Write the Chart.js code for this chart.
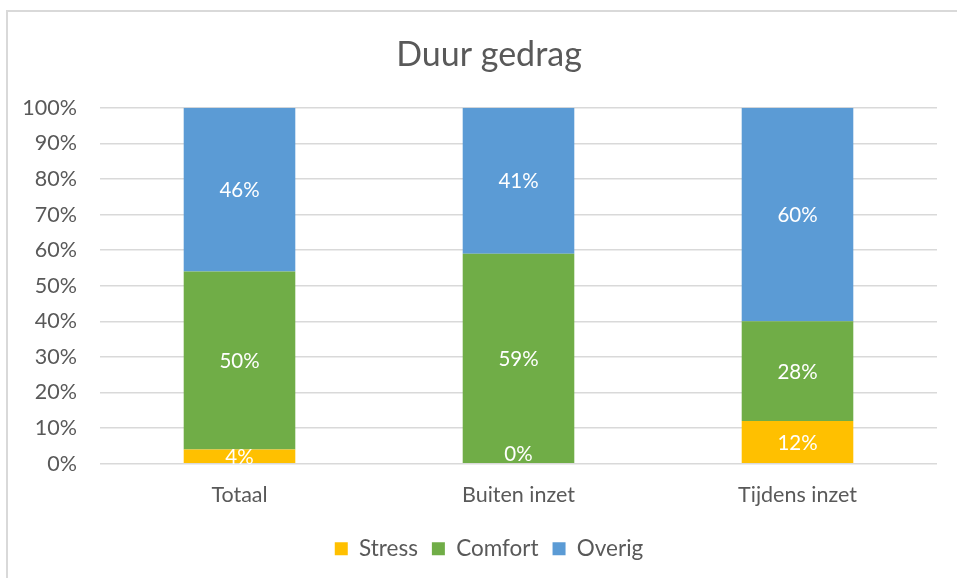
<!DOCTYPE html>
<html>
<head>
<meta charset="utf-8">
<script src="https://cdn.jsdelivr.net/npm/chart.js@4.4.1/dist/chart.umd.min.js"></script>
<style>
  html, body { margin: 0; padding: 0; background: #fff; overflow: hidden; }
  #frame { position: absolute; left: 6px; top: 10px; width: 1000px; height: 1000px; border-left: 2px solid #D9D9D9; border-top: 2px solid #D9D9D9; box-sizing: border-box; }
  #wrap { position: absolute; left: 0; top: 0; width: 957px; height: 578px; }
</style>
</head>
<body>
<div id="frame"></div>
<div id="wrap"><canvas id="c" width="957" height="578"></canvas></div>
<script>
const categories = ["Totaal", "Buiten inzet", "Tijdens inzet"];
const stressValues = [4, 0, 12];
const comfortValues = [50, 59, 28];
const overigValues = [46, 41, 60];
const seriesNames = ["Stress", "Comfort", "Overig"];
const tickLabels = ["0%", "10%", "20%", "30%", "40%", "50%", "60%", "70%", "80%", "90%", "100%"];

const FONT = "Lato, 'Liberation Sans', sans-serif";

const labelPlugin = {
  id: 'barLabels',
  afterLayout(chart) {
    // center title and legend like the original chart object (slightly right of canvas center)
    if (chart.titleBlock) { chart.titleBlock.left += 41; }
    if (chart.legend) { chart.legend.left += 41; }
  },
  afterDatasetsDraw(chart) {
    const ctx = chart.ctx;
    ctx.save();
    ctx.font = "20.5px " + FONT;
    ctx.fillStyle = "#FFFFFF";
    ctx.textAlign = "center";
    ctx.textBaseline = "middle";
    const base = chart.scales.y.getPixelForValue(0);
    chart.data.datasets.forEach((ds, di) => {
      const meta = chart.getDatasetMeta(di);
      meta.data.forEach((bar, i) => {
        const v = ds.data[i];
        let y = (bar.y + bar.base) / 2;
        if (v === 0) y = base - 10;
        ctx.fillText(v + "%", bar.x, y + 1);
      });
    });
    ctx.restore();
  }
};

new Chart(document.getElementById('c'), {
  type: 'bar',
  data: {
    labels: categories,
    datasets: [
      { label: seriesNames[0], data: stressValues, backgroundColor: '#FFC000' },
      { label: seriesNames[1], data: comfortValues, backgroundColor: '#70AD47' },
      { label: seriesNames[2], data: overigValues, backgroundColor: '#5B9BD5' }
    ]
  },
  options: {
    responsive: false,
    animation: false,
    devicePixelRatio: 1,
    layout: { padding: { left: 0, right: 20, top: 10, bottom: 8 } },
    datasets: { bar: { barPercentage: 0.4, categoryPercentage: 1.0 } },
    plugins: {
      title: {
        display: true, text: 'Duur gedrag', color: '#595959',
        font: { family: FONT, size: 34, weight: 'normal' },
        padding: { top: 25, bottom: 32 }
      },
      legend: {
        position: 'bottom',
        labels: {
          color: '#595959', boxWidth: 13, boxHeight: 13,
          font: { family: FONT, size: 22.5 }, padding: 14
        }
      },
      tooltip: { enabled: false }
    },
    scales: {
      x: {
        stacked: true,
        afterFit(scale) { scale.height += 6; },
        grid: { display: false },
        border: { display: false },
        ticks: { color: '#595959', font: { family: FONT, size: 21.5 }, padding: 10 }
      },
      y: {
        stacked: true, min: 0, max: 100,
        afterFit(scale) { scale.width = 100; },
        afterBuildTicks(scale) { scale.ticks = tickLabels.map((t, i) => ({ value: i * 10 })); },
        grid: { color: '#D9D9D9', lineWidth: 1.5, drawTicks: false },
        border: { display: false },
        ticks: {
          color: '#595959', font: { family: FONT, size: 21.5 }, padding: 23,
          callback: (v) => tickLabels[v / 10]
        }
      }
    }
  },
  plugins: [labelPlugin]
});
</script>
</body>
</html>
